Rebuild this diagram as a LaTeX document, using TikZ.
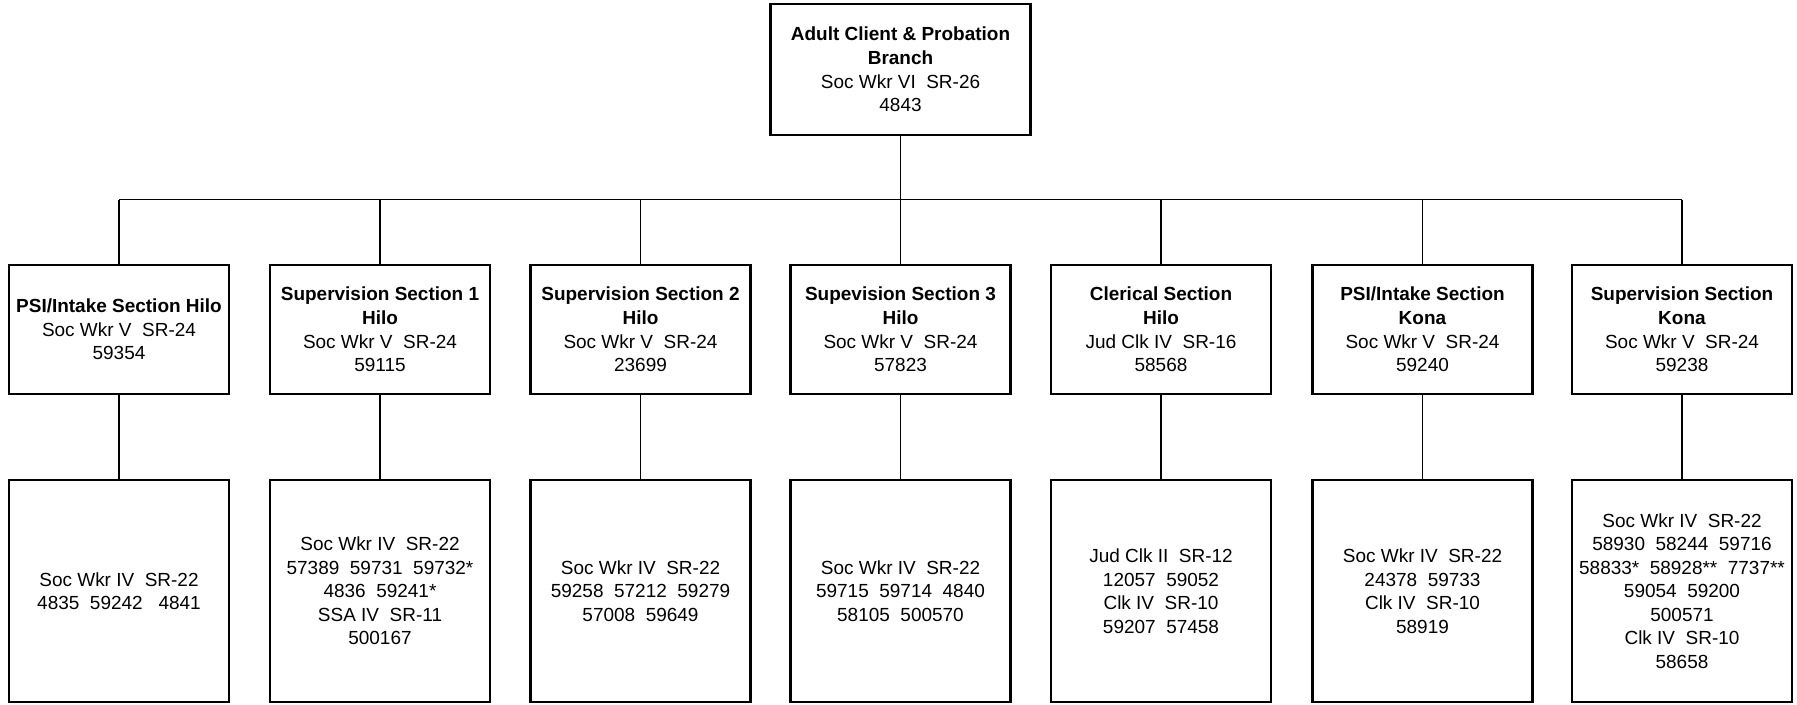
\documentclass[tikz,border=0pt]{standalone}
\usepackage{fontspec}
\setmainfont{Liberation Sans}
\usepackage{tikz}
\usetikzlibrary{positioning}

\begin{document}
\begin{tikzpicture}[
        x=0.02cm, y=-0.02cm,
        % Estilo de las cajas del organigrama
        caja/.style={draw=black, line width=1.4pt, align=center, inner sep=0pt,
            font=\fontsize{10.8}{13.4}\selectfont},
        seccion/.style={caja, minimum width=4.4cm, minimum height=2.58cm},
        personal/.style={caja, minimum width=4.4cm, minimum height=4.44cm},
        conector/.style={line width=1pt},
    ]
        \useasboundingbox (0,0) rectangle (1797,704);

        % 1. Jefatura
        \node (branch) [caja, minimum width=5.2cm, minimum height=2.62cm] at (900.5,69.5)
            {\textbf{Adult Client \& Probation}\\ \textbf{Branch}\\ Soc Wkr VI\ \ SR-26\\ 4843};

        % 2. Secciones
        \node (psihilo) [seccion] at (119,329.5) {\textbf{PSI/Intake Section Hilo}\\ Soc Wkr V\ \ SR-24\\ 59354};
        \node (sup1) [seccion] at (380,329.5) {\textbf{Supervision Section 1}\\ \textbf{Hilo}\\ Soc Wkr V\ \ SR-24\\ 59115};
        \node (sup2) [seccion] at (640.5,329.5) {\textbf{Supervision Section 2}\\ \textbf{Hilo}\\ Soc Wkr V\ \ SR-24\\ 23699};
        \node (sup3) [seccion] at (900.5,329.5) {\textbf{Supevision Section 3}\\ \textbf{Hilo}\\ Soc Wkr V\ \ SR-24\\ 57823};
        \node (clerical) [seccion] at (1161,329.5) {\textbf{Clerical Section}\\ \textbf{Hilo}\\ Jud Clk IV\ \ SR-16\\ 58568};
        \node (psikona) [seccion] at (1422.5,329.5) {\textbf{PSI/Intake Section}\\ \textbf{Kona}\\ Soc Wkr V\ \ SR-24\\ 59240};
        \node (supkona) [seccion] at (1682,329.5) {\textbf{Supervision Section}\\ \textbf{Kona}\\ Soc Wkr V\ \ SR-24\\ 59238};

        % 3. Personal de cada seccion
        \node (psihilo-p) [personal] at (119,591) {Soc Wkr IV\ \ SR-22\\ 4835\ \ 59242\ \ \ 4841};
        \node (sup1-p) [personal] at (380,591) {Soc Wkr IV\ \ SR-22\\ 57389\ \ 59731\ \ 59732*\\ 4836\ \ 59241*\\ SSA IV\ \ SR-11\\ 500167};
        \node (sup2-p) [personal] at (640.5,591) {Soc Wkr IV\ \ SR-22\\ 59258\ \ 57212\ \ 59279\\ 57008\ \ 59649};
        \node (sup3-p) [personal] at (900.5,591) {Soc Wkr IV\ \ SR-22\\ 59715\ \ 59714\ \ 4840\\ 58105\ \ 500570};
        \node (clerical-p) [personal] at (1161,591) {Jud Clk II\ \ SR-12\\ 12057\ \ 59052\\ Clk IV\ \ SR-10\\ 59207\ \ 57458};
        \node (psikona-p) [personal] at (1422.5,591) {Soc Wkr IV\ \ SR-22\\ 24378\ \ 59733\\ Clk IV\ \ SR-10\\ 58919};
        \node (supkona-p) [personal] at (1682,591) {Soc Wkr IV\ \ SR-22\\ 58930\ \ 58244\ \ 59716\\ 58833*\ \ 58928**\ \ 7737**\\ 59054\ \ 59200\\ 500571\\ Clk IV\ \ SR-10\\ 58658};

        % 4. Lineas de mando
        \coordinate (bus) at (0,199.5);
        \draw[conector] (branch.south) -- (branch.south |- bus);
        \draw[conector] (psihilo.north |- bus) -- (supkona.north |- bus);
        \draw[conector] (psihilo.north |- bus) -- (psihilo.north);
        \draw[conector] (sup1.north |- bus) -- (sup1.north);
        \draw[conector] (sup2.north |- bus) -- (sup2.north);
        \draw[conector] (sup3.north |- bus) -- (sup3.north);
        \draw[conector] (clerical.north |- bus) -- (clerical.north);
        \draw[conector] (psikona.north |- bus) -- (psikona.north);
        \draw[conector] (supkona.north |- bus) -- (supkona.north);

        \draw[conector] (psihilo) -- (psihilo-p);
        \draw[conector] (sup1) -- (sup1-p);
        \draw[conector] (sup2) -- (sup2-p);
        \draw[conector] (sup3) -- (sup3-p);
        \draw[conector] (clerical) -- (clerical-p);
        \draw[conector] (psikona) -- (psikona-p);
        \draw[conector] (supkona) -- (supkona-p);

    \end{tikzpicture}
\end{document}
